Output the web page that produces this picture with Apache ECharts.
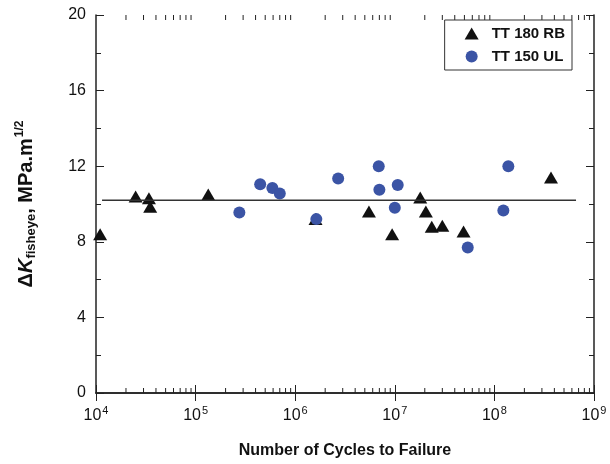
<!DOCTYPE html>
<html>
<head>
<meta charset="utf-8">
<script src="https://cdn.jsdelivr.net/npm/echarts@6/dist/echarts.min.js"></script>
<style>
  html, body { margin: 0; padding: 0; background: #fff; }
  #chart { width: 610px; height: 464px; }
</style>
</head>
<body>
<div id="chart"></div>
<script>
// TT 180 RB (triangles): [cycles, dK]
const rbPoints = [
  [1.1e4, 8.4], [2.5e4, 10.4], [3.4e4, 10.3], [3.5e4, 9.85], [1.34e5, 10.5],
  [1.6e6, 9.2], [5.5e6, 9.6], [9.4e6, 8.4], [1.8e7, 10.35], [2.05e7, 9.6],
  [2.35e7, 8.8], [3.0e7, 8.85], [4.9e7, 8.55], [3.7e8, 11.4]
];
// TT 150 UL (circles)
const ulPoints = [
  [2.75e5, 9.55], [4.45e5, 11.05], [5.9e5, 10.85], [7.0e5, 10.55], [1.63e6, 9.2],
  [2.7e6, 11.35], [6.9e6, 12.0], [7.0e6, 10.75], [1.07e7, 11.0], [1.0e7, 9.8],
  [5.4e7, 7.7], [1.23e8, 9.65], [1.38e8, 12.0]
];
// mean line
const meanLine = [[1.15e4, 10.2], [6.6e8, 10.2]];
// log minor tick positions (2..9 per decade)
const minorTicks = [];
for (let e = 4; e < 9; e++) for (let k = 2; k <= 9; k++) minorTicks.push([k * Math.pow(10, e), 0]);

const axisColor = '#222';
const chart = echarts.init(document.getElementById('chart'));

const xBase = {
  type: 'log', logBase: 10, min: 1e4, max: 1e9,
  axisLine: { show: true, lineStyle: { color: axisColor, width: 1.5 } },
  axisTick: { show: true, inside: true, length: 8, lineStyle: { color: axisColor, width: 1 } },
  splitLine: { show: false }
};
const yBase = {
  type: 'value', min: 0, max: 20, interval: 4,
  axisLine: { show: true, lineStyle: { color: axisColor, width: 1.5 } },
  axisTick: { show: true, inside: true, length: 8, lineStyle: { color: axisColor, width: 1 } },
  minorTick: { show: true, splitNumber: 2, length: 5, lineStyle: { color: axisColor, width: 1 } },
  splitLine: { show: false }
};

chart.setOption({
  animation: false,
  textStyle: { fontFamily: 'Liberation Sans, Arial, sans-serif' },
  grid: { left: 96, right: 16, top: 15, bottom: 69 },
  legend: {
    orient: 'vertical', right: 38, top: 20,
    borderColor: '#333', borderWidth: 1,
    padding: [6, 7, 6, 20], itemGap: 8, itemWidth: 14, itemHeight: 12,
    textStyle: { fontSize: 15, fontWeight: 'bold', color: '#111', padding: [0, 0, 0, 8] },
    data: ['TT 180 RB', 'TT 150 UL']
  },
  xAxis: [
    Object.assign({}, xBase, {
      position: 'bottom',
      name: 'Number of Cycles to Failure', nameLocation: 'middle', nameGap: 50,
      nameTextStyle: { fontSize: 16, fontWeight: 'bold', color: '#111' },
      axisLabel: {
        margin: 12, color: '#111',
        formatter: v => '{b|10}{s|' + Math.round(Math.log10(v)) + '}',
        rich: {
          b: { fontSize: 16, color: '#111' },
          s: { fontSize: 11, color: '#111', verticalAlign: 'top', padding: [0, 0, 10, 1] }
        }
      }
    }),
    Object.assign({}, xBase, { position: 'top', axisLabel: { show: false } })
  ],
  yAxis: [
    Object.assign({}, yBase, {
      position: 'left',
      name: '{d|Δ}{k|K}{sub|fisheye}{d|, MPa.m}{sup|1/2}',
      nameLocation: 'middle', nameGap: 58, nameRotate: 90,
      nameTextStyle: {
        rich: {
          d: { fontSize: 20, fontWeight: 'bold', color: '#111' },
          k: { fontSize: 20, fontWeight: 'bold', fontStyle: 'italic', color: '#111' },
          sub: { fontSize: 13, fontWeight: 'bold', color: '#111', verticalAlign: 'bottom', padding: [10, 0, 0, 0] },
          sup: { fontSize: 12, fontWeight: 'bold', color: '#111', verticalAlign: 'top', padding: [0, 0, 12, 1] }
        }
      },
      axisLabel: { fontSize: 16, color: '#111', margin: 10 }
    }),
    Object.assign({}, yBase, { position: 'right', axisLabel: { show: false } })
  ],
  series: [
    {
      type: 'line', data: meanLine, symbol: 'none', silent: true,
      lineStyle: { color: '#333', width: 1.5 }
    },
    {
      name: 'TT 180 RB', type: 'scatter', data: rbPoints,
      symbol: 'triangle', symbolSize: [14, 12],
      itemStyle: { color: '#111', opacity: 1 }
    },
    {
      name: 'TT 150 UL', type: 'scatter', data: ulPoints,
      symbol: 'circle', symbolSize: 12,
      itemStyle: { color: '#3b54a5', opacity: 1 }
    },
    {
      type: 'custom', data: minorTicks, silent: true, clip: false,
      renderItem: (params, api) => {
        const b = api.coord([api.value(0), 0]);
        const t = api.coord([api.value(0), 20]);
        return {
          type: 'group',
          children: [
            { type: 'line', shape: { x1: b[0], y1: b[1], x2: b[0], y2: b[1] - 5 }, style: { stroke: axisColor, lineWidth: 1 } },
            { type: 'line', shape: { x1: t[0], y1: t[1], x2: t[0], y2: t[1] + 5 }, style: { stroke: axisColor, lineWidth: 1 } }
          ]
        };
      }
    }
  ]
});
</script>
</body>
</html>
